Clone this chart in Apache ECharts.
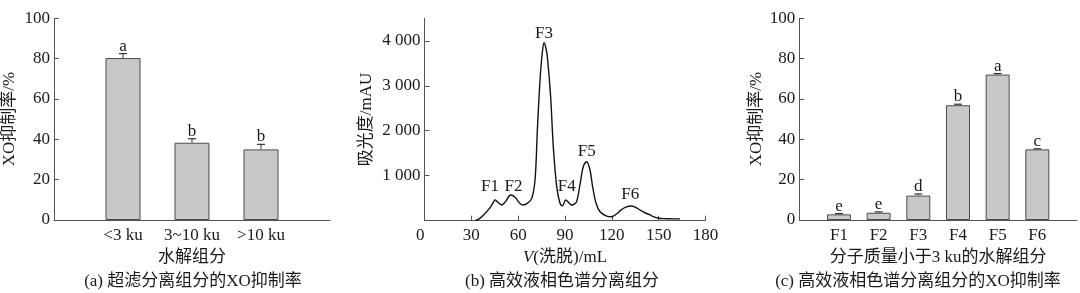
<!DOCTYPE html>
<html>
<head>
<meta charset="utf-8">
<script src="https://cdn.jsdelivr.net/npm/echarts@6/dist/echarts.min.js"></script>
<style>
html,body{margin:0;padding:0;background:#fff;}
#c{width:1080px;height:293px;}
</style>
</head>
<body>
<div id="c"></div>
<script>
// ---- data: chart (a)
const catsA = ['<3 ku', '3~10 ku', '>10 ku'];
const valsA = [80.3, 38.3, 35.0];
const errA = [2.2, 2.0, 2.5];
const lettersA = ['a', 'b', 'b'];
// ---- data: chart (b)
const elutionV = [32.5, 35, 38, 42, 44, 45.2, 47, 49.4, 52, 55.2, 58, 61, 63.3, 66, 68.7, 70.8, 72.3, 74, 75.5, 76.6, 77.7, 78.7, 80.8, 82.5, 84.7, 86.8, 88.5, 90.4, 92.5, 94.3, 96, 97.5, 100.1, 101.7, 103.9, 106, 107.7, 109.9, 112.4, 116.7, 119.9, 123, 126, 129, 132.1, 135, 138.1, 141, 144.5, 147, 149.8, 155, 163.7];
const absorb = [0, 40, 130, 290, 400, 460, 410, 349, 430, 571, 520, 390, 349, 390, 497, 904, 2015, 3127, 3750, 3956, 3850, 3645, 2756, 1645, 756, 387, 334, 460, 400, 349, 370, 423, 904, 1200, 1311, 1127, 756, 387, 200, 104, 89, 150, 240, 300, 327, 300, 238, 180, 127, 85, 53, 45, 40];
const peakNames = ['F1', 'F2', 'F3', 'F4', 'F5', 'F6'];
const peakLabelX = [42, 57, 76.6, 91.1, 103.9, 131.8];
const peakLabelY = [756, 770, 4164, 770, 1531, 571];
const xTicksB = [0, 30, 60, 90, 120, 150, 180];
const yTicksB = [1000, 2000, 3000, 4000];
// ---- data: chart (c)
const catsC = ['F1', 'F2', 'F3', 'F4', 'F5', 'F6'];
const valsC = [2.8, 3.6, 12.1, 56.9, 72.1, 35.0];
const errC = [0.4, 0.4, 0.8, 0.5, 0.5, 0.3];
const lettersC = ['e', 'e', 'd', 'b', 'a', 'c'];

const FONT = "'Liberation Serif', 'Noto Sans CJK SC', serif";
const TXT = '#1a1a1a';
const AX = '#555';

function barData(vals) { return vals.map((v, i) => [i + 1, v]); }
function errData(vals, errs) { return vals.map((v, i) => [i + 1, v, errs[i]]); }
function errRender(letters) {
  return function (params, api) {
    const x = api.value(0), v = api.value(1), e = api.value(2);
    const p0 = api.coord([x, v]);
    const p1 = api.coord([x, v + e]);
    const cap = 4;
    return {
      type: 'group',
      children: [
        { type: 'line', shape: { x1: p0[0], y1: p0[1], x2: p1[0], y2: p1[1] }, style: { stroke: '#333', lineWidth: 1 } },
        { type: 'line', shape: { x1: p1[0] - cap, y1: p1[1], x2: p1[0] + cap, y2: p1[1] }, style: { stroke: '#333', lineWidth: 1.2 } },
        { type: 'text', x: p1[0], y: p1[1] + 1, style: { text: letters[params.dataIndex], align: 'center', verticalAlign: 'bottom', fontFamily: FONT, fontSize: 17, fill: TXT } }
      ]
    };
  };
}

const axisLineStyle = { show: true, lineStyle: { color: AX, width: 1 } };
const labelStyle = { color: TXT, fontFamily: FONT, fontSize: 17 };

const option = {
  animation: false,
  textStyle: { fontFamily: FONT, color: TXT },
  grid: [
    { left: 52, top: 18.3, width: 278, height: 201.7 },
    { left: 424.5, top: 18.3, width: 281, height: 202.4 },
    { left: 799.3, top: 18.3, width: 280, height: 201.7 }
  ],
  xAxis: [
    {
      gridIndex: 0, type: 'value', min: 0, max: catsA.length + 1, interval: 1,
      axisLine: axisLineStyle, axisTick: { show: false }, splitLine: { show: false },
      axisLabel: Object.assign({ margin: 7, formatter: v => catsA[v - 1] || '' }, labelStyle),
      name: '水解组分', nameLocation: 'middle', nameGap: 28,
      nameTextStyle: { fontFamily: FONT, fontSize: 17, color: TXT }
    },
    {
      gridIndex: 1, type: 'value', min: 0, max: 180, interval: 30,
      axisLine: axisLineStyle, splitLine: { show: false },
      axisTick: { show: true, inside: true, length: 5, lineStyle: { color: AX } },
      axisLabel: Object.assign({ margin: 6, customValues: xTicksB, alignMinLabel: 'right' }, labelStyle),
      name: '{i|V}(洗脱)/mL', nameLocation: 'middle', nameGap: 28,
      nameTextStyle: { fontFamily: FONT, fontSize: 17, color: TXT, rich: { i: { fontStyle: 'italic', fontFamily: FONT, fontSize: 17, color: TXT } } }
    },
    {
      gridIndex: 2, type: 'value', min: 0, max: catsC.length + 1, interval: 1,
      axisLine: axisLineStyle, axisTick: { show: false }, splitLine: { show: false },
      axisLabel: Object.assign({ margin: 7, formatter: v => catsC[v - 1] || '' }, labelStyle),
      name: '分子质量小于3 ku的水解组分', nameLocation: 'middle', nameGap: 28,
      nameTextStyle: { fontFamily: FONT, fontSize: 17, color: TXT }
    }
  ],
  yAxis: [
    {
      gridIndex: 0, type: 'value', min: 0, max: 100, interval: 20,
      axisLine: axisLineStyle, splitLine: { show: false },
      axisTick: { show: true, inside: true, length: 5, lineStyle: { color: AX } },
      axisLabel: Object.assign({ margin: 4 }, labelStyle),
      name: 'XO抑制率/%', nameLocation: 'middle', nameGap: 36,
      nameTextStyle: { fontFamily: FONT, fontSize: 17, color: TXT }
    },
    {
      gridIndex: 1, type: 'value', min: 0, max: 4500,
      axisLine: axisLineStyle, splitLine: { show: false },
      axisTick: { show: true, inside: true, length: 5, customValues: yTicksB, lineStyle: { color: AX } },
      axisLabel: Object.assign({ margin: 4, customValues: yTicksB, formatter: v => String(v).replace(/\B(?=(\d{3})+(?!\d))/g, ' ') }, labelStyle),
      name: '吸光度/mAU', nameLocation: 'middle', nameGap: 49,
      nameTextStyle: { fontFamily: FONT, fontSize: 17, color: TXT }
    },
    {
      gridIndex: 2, type: 'value', min: 0, max: 100, interval: 20,
      axisLine: axisLineStyle, splitLine: { show: false },
      axisTick: { show: true, inside: true, length: 5, lineStyle: { color: AX } },
      axisLabel: Object.assign({ margin: 4 }, labelStyle),
      name: 'XO抑制率/%', nameLocation: 'middle', nameGap: 34,
      nameTextStyle: { fontFamily: FONT, fontSize: 17, color: TXT }
    }
  ],
  series: [
    {
      type: 'bar', xAxisIndex: 0, yAxisIndex: 0, barWidth: 35, data: barData(valsA),
      itemStyle: { color: '#c8c8c8', borderColor: '#4d4d4d', borderWidth: 1 }
    },
    {
      type: 'custom', xAxisIndex: 0, yAxisIndex: 0, renderItem: errRender(lettersA), data: errData(valsA, errA), z: 5
    },
    {
      type: 'line', xAxisIndex: 1, yAxisIndex: 1, smooth: 0.35, showSymbol: false, symbol: 'none',
      data: elutionV.map((x, i) => [x, absorb[i]]),
      lineStyle: { color: '#111', width: 1.4 }
    },
    {
      type: 'scatter', xAxisIndex: 1, yAxisIndex: 1, symbolSize: 0,
      itemStyle: { opacity: 1 },
      data: peakLabelX.map((x, i) => [x, peakLabelY[i]]),
      label: { show: true, position: 'inside', formatter: p => peakNames[p.dataIndex], fontFamily: FONT, fontSize: 17, color: TXT }
    },
    {
      type: 'bar', xAxisIndex: 2, yAxisIndex: 2, barWidth: 24, data: barData(valsC),
      itemStyle: { color: '#c8c8c8', borderColor: '#4d4d4d', borderWidth: 1 }
    },
    {
      type: 'custom', xAxisIndex: 2, yAxisIndex: 2, renderItem: errRender(lettersC), data: errData(valsC, errC), z: 5
    }
  ],
  graphic: [
    { type: 'text', x: 193, y: 282, style: { text: '(a) 超滤分离组分的XO抑制率', align: 'center', verticalAlign: 'middle', fontFamily: FONT, fontSize: 17, fill: TXT } },
    { type: 'text', x: 562, y: 282, style: { text: '(b) 高效液相色谱分离组分', align: 'center', verticalAlign: 'middle', fontFamily: FONT, fontSize: 17, fill: TXT } },
    { type: 'text', x: 918, y: 282, style: { text: '(c) 高效液相色谱分离组分的XO抑制率', align: 'center', verticalAlign: 'middle', fontFamily: FONT, fontSize: 17, fill: TXT } }
  ]
};

const chart = echarts.init(document.getElementById('c'), null, { renderer: 'canvas' });
chart.setOption(option);
</script>
</body>
</html>
